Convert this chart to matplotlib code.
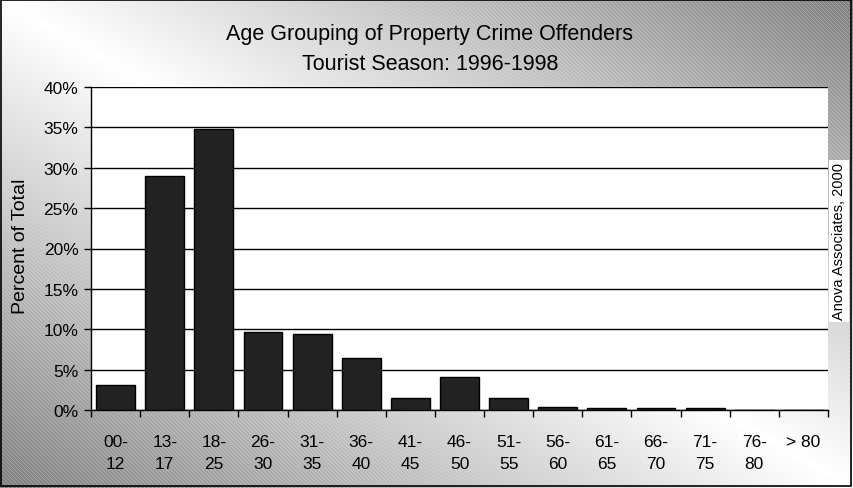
import matplotlib
matplotlib.use("Agg")
import matplotlib.pyplot as plt
import numpy as np
from matplotlib.ticker import FixedLocator, FuncFormatter

plt.rcParams["font.family"] = ["Liberation Sans", "DejaVu Sans"]

# data
age_groups = ["00-\n12", "13-\n17", "18-\n25", "26-\n30", "31-\n35", "36-\n40", "41-\n45",
              "46-\n50", "51-\n55", "56-\n60", "61-\n65", "66-\n70", "71-\n75", "76-\n80", "> 80"]
percent = [3.1, 29.0, 34.8, 9.6, 9.4, 6.4, 1.5, 4.1, 1.5, 0.4, 0.2, 0.2, 0.2, 0.0, 0.0]
title_lines = ["Age Grouping of Property Crime Offenders", "Tourist Season: 1996-1998"]
credit = "Anova Associates, 2000"

W, H = 854, 489
fig = plt.figure(figsize=(W / 100, H / 100), dpi=100)

# gradient background with fine diagonal stripes
bg = fig.add_axes([0, 0, 1, 1])
yy, xx = np.mgrid[0:H, 0:W]
s = xx / W - yy / H
shade = 1.0 - 0.5 * np.abs(s)
stripes = ((xx - yy) % 4 == 0) * 0.12 * np.abs(s)
img = np.clip(shade + stripes, 0, 1)
bg.imshow(img, cmap="gray", vmin=0, vmax=1, aspect="auto", extent=[0, W, H, 0])
bg.set_xlim(0, W)
bg.set_ylim(H, 0)
bg.axis("off")
bg.add_patch(plt.Rectangle((0.5, 0.5), W - 3, H - 3, fill=False, edgecolor="black", lw=1.2))

ax = fig.add_axes([91 / W, (H - 411) / H, 737 / W, 323 / H])
ax.set_facecolor("white")
x = np.arange(len(age_groups))
ax.bar(x, percent, width=0.79, color="#222222", edgecolor="black", linewidth=1, zorder=3)

ax.set_xlim(-0.5, len(age_groups) - 0.5)
ax.set_ylim(0, 40)
ax.set_yticks(np.arange(0, 41, 5))
ax.yaxis.set_major_formatter(FuncFormatter(lambda v, p: f"{v:.0f}%"))
ax.yaxis.grid(True, color="black", linewidth=1, zorder=0)

ax.set_xticks(x)
ax.set_xticklabels(age_groups, fontsize=12.5, linespacing=1.6, va="top")
ax.tick_params(axis="x", which="major", length=0, pad=17)
ax.xaxis.set_minor_locator(FixedLocator(np.arange(-0.5, len(age_groups), 1)))
ax.tick_params(axis="x", which="minor", length=5, width=1, direction="out")
ax.tick_params(axis="y", length=5, width=1, direction="out", labelsize=12.5, pad=4)

for side in ["top", "right"]:
    ax.spines[side].set_visible(False)
ax.spines["left"].set_linewidth(1)
ax.spines["bottom"].set_linewidth(1)

fig.text(21 / W, 1 - 246 / H, "Percent of Total", rotation=90, ha="center", va="center", fontsize=14)

fig.text(430 / W, 1 - 40 / H, title_lines[0], ha="center", va="baseline", fontsize=15.5)
fig.text(430 / W, 1 - 70 / H, title_lines[1], ha="center", va="baseline", fontsize=15.5)

fig.text(839 / W, 1 - 242 / H, credit, rotation=90, ha="center", va="center",
         fontsize=10.5, bbox=dict(facecolor="white", edgecolor="none", pad=2))

fig.savefig("out.png", dpi=100)
